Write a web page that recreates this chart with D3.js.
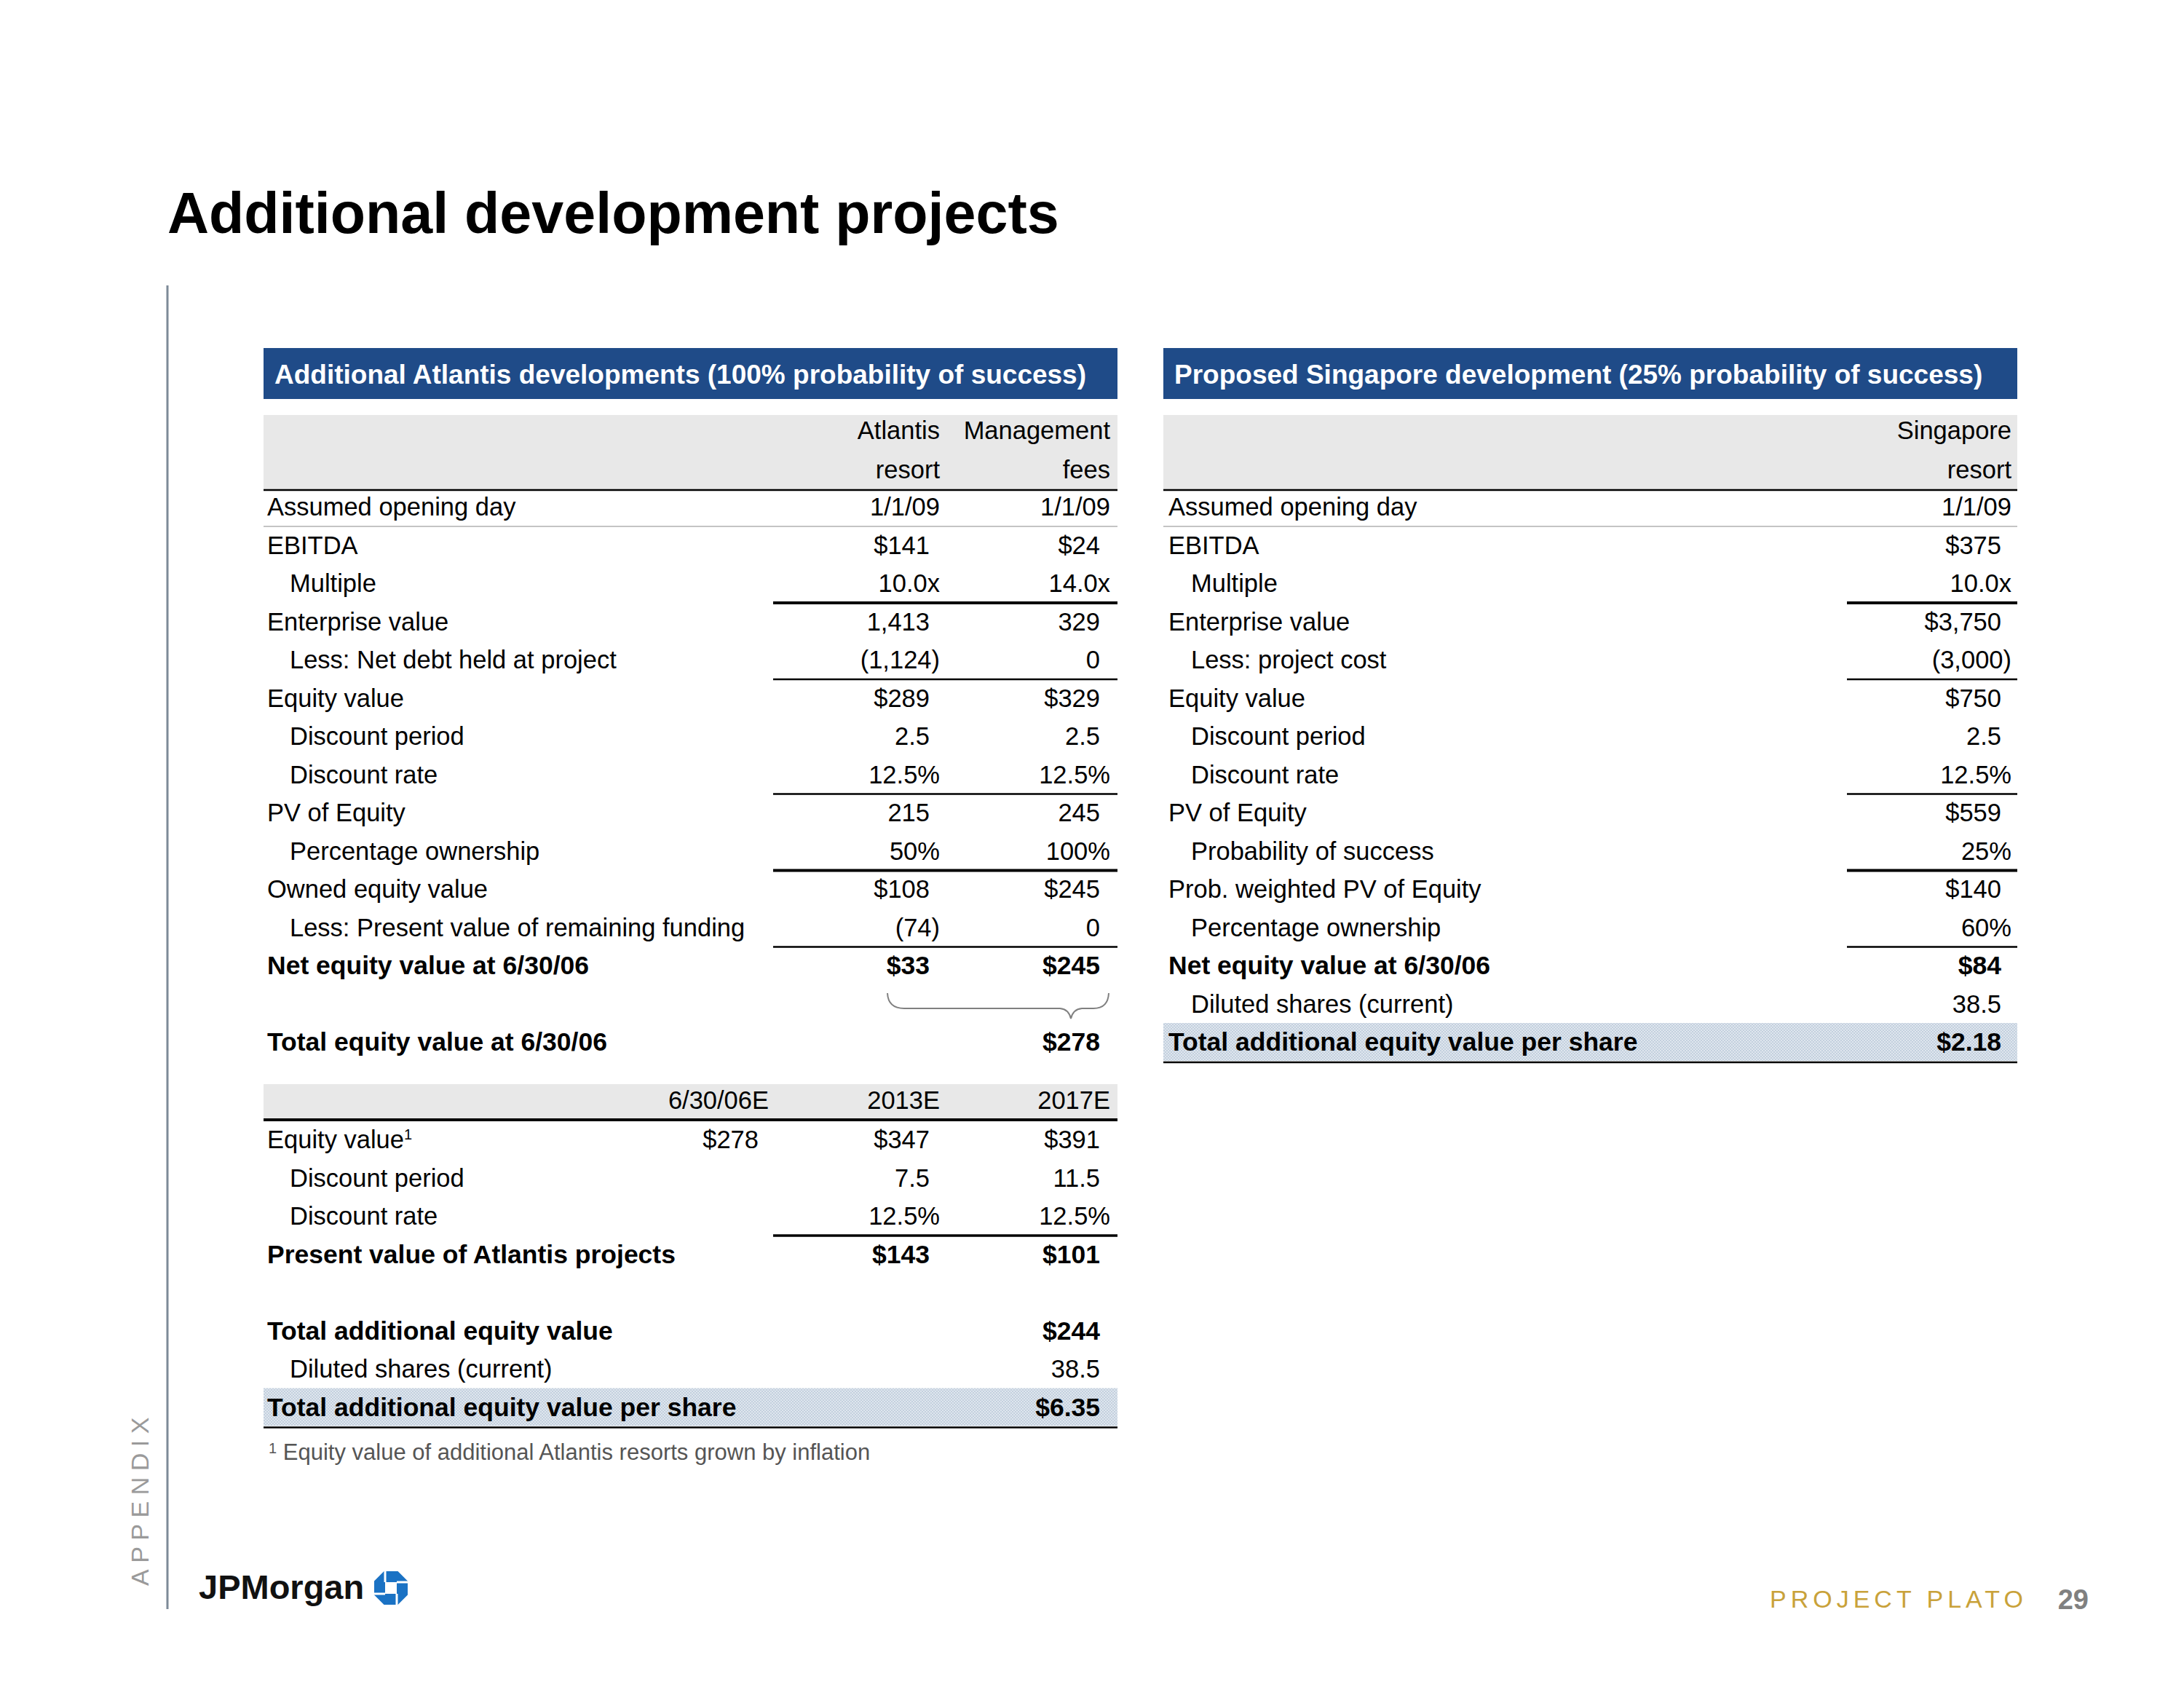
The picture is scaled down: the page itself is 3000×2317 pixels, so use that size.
<!DOCTYPE html>
<html><head><meta charset="utf-8">
<script src="https://cdn.jsdelivr.net/npm/d3@7/dist/d3.min.js"></script>
<style>html,body{margin:0;padding:0;background:#fff}svg{display:block}</style>
</head><body><svg id="c" width="3000" height="2317"></svg>
<script>
// ---------- DATA ----------
const pageTitle = "Additional development projects";
const atlantisTitle = "Additional Atlantis developments (100% probability of success)";
const singaporeTitle = "Proposed Singapore development (25% probability of success)";
const atlantisColumns = [["Atlantis","resort"],["Management","fees"]];
const singaporeColumns = [["Singapore","resort"]];
const atlantisRowLabels = ["Assumed opening day","EBITDA","Multiple","Enterprise value","Less: Net debt held at project","Equity value","Discount period","Discount rate","PV of Equity","Percentage ownership","Owned equity value","Less: Present value of remaining funding","Net equity value at 6/30/06"];
const atlantisResort = ["1/1/09","$141","10.0x","1,413","(1,124)","$289","2.5","12.5%","215","50%","$108","(74)","$33"];
const managementFees = ["1/1/09","$24","14.0x","329","0","$329","2.5","12.5%","245","100%","$245","0","$245"];
const totalEquityLabel = "Total equity value at 6/30/06";
const totalEquityValue = "$278";
const pvPeriods = ["6/30/06E","2013E","2017E"];
const pvRowLabels = ["Equity value","Discount period","Discount rate","Present value of Atlantis projects"];
const pvEquityValue = ["$278","$347","$391"];
const pvDiscountPeriod = ["","7.5","11.5"];
const pvDiscountRate = ["","12.5%","12.5%"];
const pvPresentValue = ["","$143","$101"];
const atlantisSummaryLabels = ["Total additional equity value","Diluted shares (current)","Total additional equity value per share"];
const atlantisSummaryValues = ["$244","38.5","$6.35"];
const footnote = "Equity value of additional Atlantis resorts grown by inflation";
const singaporeRowLabels = ["Assumed opening day","EBITDA","Multiple","Enterprise value","Less: project cost","Equity value","Discount period","Discount rate","PV of Equity","Probability of success","Prob. weighted PV of Equity","Percentage ownership","Net equity value at 6/30/06","Diluted shares (current)","Total additional equity value per share"];
const singaporeResort = ["1/1/09","$375","10.0x","$3,750","(3,000)","$750","2.5","12.5%","$559","25%","$140","60%","$84","38.5","$2.18"];

// ---------- STYLE / LAYOUT ----------
const FONT = "'Liberation Sans', Arial, sans-serif";
const BLUE = "#1f4b88";
const FS = 34.5;
const FSB = 35.5;
const indentedAtlantis = [2,4,6,7,9,11];
const boldAtlantis = [12];
const indentedSingapore = [2,4,6,7,9,11,13];
const boldSingapore = [12,14];

const svg = d3.select("#c");
svg.append("rect").attr("width",3000).attr("height",2317).attr("fill","#fff");

// title
svg.append("text").attr("x",230).attr("y",320).attr("font-family",FONT).attr("font-weight","bold")
  .attr("font-size",79).attr("fill","#000").text(pageTitle);

// side line
svg.append("line").attr("x1",230).attr("x2",230).attr("y1",392).attr("y2",2210).attr("stroke","#7d8a98").attr("stroke-width",3);

// APPENDIX
svg.append("text").attr("transform","translate(204,2178) rotate(-90)").attr("font-family",FONT)
  .attr("font-size",34).attr("letter-spacing",8.5).attr("fill","#9a9a9a").text("APPENDIX");

// row scale
const rowY = d3.scaleLinear().domain([0,1]).range([696,748.5]);
const pvY = d3.scaleLinear().domain([0,1]).range([1565,1617.5]);

function txt(g, x, y, s, opt={}) {
  return g.append("text").attr("x",x).attr("y",y).attr("dy","0.35em")
    .attr("font-family",FONT).attr("font-size",opt.size||(opt.bold?FSB:FS))
    .attr("font-weight",opt.bold?"bold":"normal")
    .attr("text-anchor",opt.anchor||"start").attr("fill",opt.fill||"#000").text(s);
}
const HANG = 14;
function valX(v, colRight) {
  return (/[x%)E]$/.test(v) || /\/.*\//.test(v)) ? colRight : colRight - HANG;
}
function hline(g, x1, x2, y, w, c) {
  g.append("line").attr("x1",x1).attr("x2",x2).attr("y1",y).attr("y2",y).attr("stroke",c||"#000").attr("stroke-width",w);
}

function drawPanel(opt) {
  const g = svg.append("g");
  const x0 = opt.x0, x1 = opt.x1;
  g.append("rect").attr("x",x0).attr("y",478).attr("width",x1-x0).attr("height",70).attr("fill",BLUE);
  g.append("text").attr("x",x0+15).attr("y",527).attr("font-family",FONT).attr("font-weight","bold")
    .attr("font-size",37).attr("fill","#fff").text(opt.title);
  g.append("rect").attr("x",x0).attr("y",570).attr("width",x1-x0).attr("height",103).attr("fill","#e8e8e8");
  opt.columns.forEach((c,i)=>{
    txt(g, opt.colRights[i], 591, c[0], {anchor:"end"});
    txt(g, opt.colRights[i], 645, c[1], {anchor:"end"});
  });
  hline(g, x0, x1, 673, 2.5);
  hline(g, x0, x1, 723, 2, "#c4c4c4");
  if (opt.bandY) {
    g.append("rect").attr("x",x0).attr("y",opt.bandY-26).attr("width",x1-x0).attr("height",52).attr("fill","url(#hatch)");
    hline(g, x0, x1, opt.bandY+28, 2.5);
  }
  opt.rules.forEach(r=>hline(g, opt.ruleX0, x1, rowY(r[0])+27, r[1]));
  opt.labels.forEach((l,i)=>{
    const ind = opt.indent.includes(i);
    const bold = opt.bold.includes(i);
    txt(g, (ind?opt.labelX+31:opt.labelX), rowY(i), l, {bold});
    opt.series.forEach((s,j)=>{
      txt(g, valX(s[i], opt.colRights[j]), rowY(i), s[i], {anchor:"end", bold});
    });
  });
  return g;
}

const defs = svg.append("defs");
const pat = defs.append("pattern").attr("id","hatch").attr("width",4).attr("height",4).attr("patternUnits","userSpaceOnUse");
pat.append("rect").attr("width",4).attr("height",4).attr("fill","#dfe6ee");
pat.append("rect").attr("width",2).attr("height",2).attr("fill","#c3d0de");
pat.append("rect").attr("x",2).attr("y",2).attr("width",2).attr("height",2).attr("fill","#c3d0de");

// ---------- LEFT PANEL ----------
const leftRights = [1291,1525];
const left = drawPanel({
  x0:362, x1:1535, ruleX0:1062, labelX:367, title:atlantisTitle,
  columns:atlantisColumns, colRights:leftRights,
  labels:atlantisRowLabels, series:[atlantisResort, managementFees],
  indent:indentedAtlantis, bold:boldAtlantis,
  rules:[[2,4],[4,2.5],[7,2.5],[9,4],[11,2.5]]
});
left.append("path").attr("d","M1219,1364 Q1220,1385 1242,1385 L1456,1385 Q1468,1386 1471,1399 Q1474,1386 1486,1385 L1502,1385 Q1522,1385 1523,1364")
  .attr("fill","none").attr("stroke","#808080").attr("stroke-width",2);
txt(left, 367, rowY(14), totalEquityLabel, {bold:true});
txt(left, valX(totalEquityValue, leftRights[1]), rowY(14), totalEquityValue, {bold:true, anchor:"end"});

const pvRights = [1056,1291,1525];
left.append("rect").attr("x",362).attr("y",1489).attr("width",1173).attr("height",49).attr("fill","#e8e8e8");
pvPeriods.forEach((p,i)=>txt(left, pvRights[i], 1511, p, {anchor:"end"}));
hline(left, 362, 1535, 1538, 4);
hline(left, 1062, 1535, pvY(2)+27, 3.5);
const pvSeries = [pvEquityValue, pvDiscountPeriod, pvDiscountRate, pvPresentValue];
pvRowLabels.forEach((l,i)=>{
  const ind = (i===1||i===2), bold = (i===3);
  const t = txt(left, ind?398:367, pvY(i), l, {bold});
  if (i===0) t.append("tspan").attr("font-size",20).attr("dy","-0.6em").text("1");
  pvSeries[i].forEach((v,j)=>{ if(v) txt(left, valX(v,pvRights[j]), pvY(i), v, {anchor:"end", bold}); });
});
const sumY = [pvY(5), pvY(6), pvY(7)];
left.append("rect").attr("x",362).attr("y",sumY[2]-26).attr("width",1173).attr("height",52).attr("fill","url(#hatch)");
hline(left, 362, 1535, sumY[2]+28, 2.5);
atlantisSummaryLabels.forEach((l,i)=>{
  const bold = i!==1;
  txt(left, i===1?398:367, sumY[i], l, {bold});
  txt(left, valX(atlantisSummaryValues[i], 1525), sumY[i], atlantisSummaryValues[i], {anchor:"end", bold});
});
const fn = left.append("text").attr("x",369).attr("y",2002).attr("font-family",FONT).attr("font-size",31).attr("fill","#555");
fn.append("tspan").attr("font-size",20).attr("dy","-0.3em").text("1");
fn.append("tspan").attr("dy","0.3em").text(" " + footnote);

// ---------- RIGHT PANEL ----------
drawPanel({
  x0:1598, x1:2771, ruleX0:2537, labelX:1605, title:singaporeTitle,
  columns:singaporeColumns, colRights:[2763],
  labels:singaporeRowLabels, series:[singaporeResort],
  indent:indentedSingapore, bold:boldSingapore,
  rules:[[2,4],[4,2.5],[7,2.5],[9,4],[11,2.5]],
  bandY: rowY(14)
});

// ---------- FOOTER ----------
svg.append("text").attr("x",273).attr("y",2196).attr("font-family",FONT).attr("font-weight","bold")
  .attr("font-size",47).attr("fill","#111").text("JPMorgan");
const cx=537, cy=2181, R=23, s=8;
const oct = d3.range(8).map(k=>{const a=(22.5+45*k)*Math.PI/180; return [cx+R*Math.cos(a)/Math.cos(Math.PI/8), cy+R*Math.sin(a)/Math.cos(Math.PI/8)];});
const octPath = "M"+oct.map(p=>p.join(",")).join("L")+"Z"+`M${cx-s},${cy-s}L${cx+s},${cy-s}L${cx+s},${cy+s}L${cx-s},${cy+s}Z`;
svg.append("path").attr("d",octPath).attr("fill","#1a72c4").attr("fill-rule","evenodd");
[[cx-s,cy-s,cx-s,cy-R-3],[cx+s,cy-s,cx+R+3,cy-s],[cx+s,cy+s,cx+s,cy+R+3],[cx-s,cy+s,cx-R-3,cy+s]].forEach(l=>{
  svg.append("line").attr("x1",l[0]).attr("y1",l[1]).attr("x2",l[2]).attr("y2",l[3]).attr("stroke","#fff").attr("stroke-width",3);
});

svg.append("text").attr("x",2431).attr("y",2208).attr("font-family",FONT).attr("font-size",34)
  .attr("letter-spacing",6).attr("fill","#c9a23a").text("PROJECT PLATO");
svg.append("text").attr("x",2869).attr("y",2210).attr("text-anchor","end").attr("font-family",FONT).attr("font-weight","bold")
  .attr("font-size",38).attr("fill","#808080").text("29");
</script></body></html>
